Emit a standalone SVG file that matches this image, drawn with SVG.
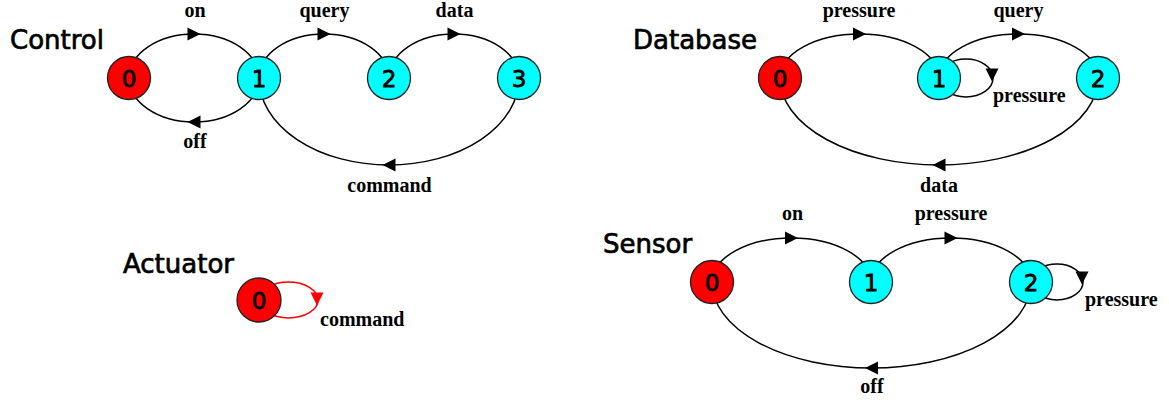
<svg xmlns="http://www.w3.org/2000/svg" xmlns:xlink="http://www.w3.org/1999/xlink" width="1169" height="403" viewBox="0 0 1169 403">
<style>
.title{font-family:"DejaVu Sans",sans-serif;font-size:26px;fill:#000;stroke:#000;stroke-width:0.7}
.lbl{font-family:"Liberation Serif",serif;font-weight:bold;font-size:20px;fill:#000;text-anchor:middle}
.lbls{font-family:"Liberation Serif",serif;font-weight:bold;font-size:20px;fill:#000;text-anchor:start}
.num{font-family:"DejaVu Sans",sans-serif;font-size:23px;fill:#000;stroke:#000;stroke-width:0.8;text-anchor:middle}
.edge{fill:none;stroke:#000;stroke-width:1.5}
.redge{fill:none;stroke:#f00;stroke-width:1.5}
.red{fill:#f00;stroke:#222;stroke-width:1.3}
.cyan{fill:#0ff;stroke:#222;stroke-width:1.3}
.ah{fill:#000}
.rah{fill:#f00}
</style>
<defs>
<path id="arr" d="M-6.5,-6.5 L6.5,0 L-6.5,6.5 Z"/>
</defs>
<rect width="1169" height="403" fill="#fff"/>
<g id="titles">
<text class="title" x="10" y="49">Control</text>
<text class="title" x="633" y="49">Database</text>
<text class="title" x="123" y="273">Actuator</text>
<text class="title" x="603" y="253">Sensor</text>
</g>
<g id="connectors">
<path class="edge" d="M129,78 A65,44 0 0 1 259,78"/>
<path class="edge" d="M259,78 A65,44 0 0 1 129,78"/>
<path class="edge" d="M259,78 A65,44 0 0 1 389,78"/>
<path class="edge" d="M389,78 A65,44 0 0 1 519,78"/>
<path class="edge" d="M519,78 A130,87 0 0 1 259,78"/>
<use xlink:href="#arr" class="ah" transform="translate(194,34)"/>
<use xlink:href="#arr" class="ah" transform="translate(194,122) rotate(180)"/>
<use xlink:href="#arr" class="ah" transform="translate(324,34)"/>
<use xlink:href="#arr" class="ah" transform="translate(454,34)"/>
<use xlink:href="#arr" class="ah" transform="translate(389,165) rotate(180)"/>

<path class="edge" d="M780,78 A79.5,44 0 0 1 939,78"/>
<path class="edge" d="M939,78 A79.5,44 0 0 1 1098,78"/>
<path class="edge" d="M1098,78 A159,87 0 0 1 780,78"/>
<ellipse class="edge" cx="966" cy="78" rx="27" ry="19"/>
<use xlink:href="#arr" class="ah" transform="translate(859.5,34)"/>
<use xlink:href="#arr" class="ah" transform="translate(1018.5,34)"/>
<use xlink:href="#arr" class="ah" transform="translate(939,165) rotate(180)"/>
<use xlink:href="#arr" class="ah" transform="translate(992,75) rotate(90)"/>

<ellipse class="redge" cx="288.5" cy="300" rx="29.5" ry="18"/>
<use xlink:href="#arr" class="rah" transform="translate(317,299) rotate(90)"/>

<path class="edge" d="M712,282 A79.5,44 0 0 1 871,282"/>
<path class="edge" d="M871,282 A80,44 0 0 1 1031,282"/>
<path class="edge" d="M1031,282 A159.5,86 0 0 1 712,282"/>
<ellipse class="edge" cx="1057" cy="282" rx="26" ry="18"/>
<use xlink:href="#arr" class="ah" transform="translate(791.5,238)"/>
<use xlink:href="#arr" class="ah" transform="translate(951,238)"/>
<use xlink:href="#arr" class="ah" transform="translate(871.5,368) rotate(180)"/>
<use xlink:href="#arr" class="ah" transform="translate(1082,278) rotate(90)"/>
</g>
<g id="labels">
<text class="lbl" x="195" y="17">on</text>
<text class="lbl" x="195" y="148">off</text>
<text class="lbl" x="324.5" y="17">query</text>
<text class="lbl" x="454.5" y="17">data</text>
<text class="lbl" x="389.5" y="192">command</text>
<text class="lbl" x="859" y="17">pressure</text>
<text class="lbl" x="1018.5" y="17">query</text>
<text class="lbls" x="993" y="102">pressure</text>
<text class="lbl" x="939" y="192">data</text>
<text class="lbls" x="320" y="326">command</text>
<text class="lbl" x="792.5" y="220">on</text>
<text class="lbl" x="951" y="220">pressure</text>
<text class="lbls" x="1085" y="306">pressure</text>
<text class="lbl" x="872" y="393">off</text>
</g>
<g id="control-0"><circle class="red" cx="129" cy="78" r="21.5"/><text class="num" x="129" y="86.5">0</text></g>
<g id="control-1"><circle class="cyan" cx="259" cy="78" r="21.5"/><text class="num" x="259" y="86.5">1</text></g>
<g id="control-2"><circle class="cyan" cx="389" cy="78" r="21.5"/><text class="num" x="389" y="86.5">2</text></g>
<g id="control-3"><circle class="cyan" cx="519" cy="78" r="21.5"/><text class="num" x="519" y="86.5">3</text></g>
<g id="database-0"><circle class="red" cx="780" cy="78" r="21.5"/><text class="num" x="780" y="86.5">0</text></g>
<g id="database-1"><circle class="cyan" cx="939" cy="78" r="21.5"/><text class="num" x="939" y="86.5">1</text></g>
<g id="database-2"><circle class="cyan" cx="1098" cy="78" r="21.5"/><text class="num" x="1098" y="86.5">2</text></g>
<g id="actuator-0"><circle class="red" cx="259" cy="300" r="22"/><text class="num" x="259" y="308.5">0</text></g>
<g id="sensor-0"><circle class="red" cx="712" cy="282" r="21.5"/><text class="num" x="712" y="290.5">0</text></g>
<g id="sensor-1"><circle class="cyan" cx="871" cy="282" r="21.5"/><text class="num" x="871" y="290.5">1</text></g>
<g id="sensor-2"><circle class="cyan" cx="1031" cy="282" r="21.5"/><text class="num" x="1031" y="290.5">2</text></g>
</svg>
